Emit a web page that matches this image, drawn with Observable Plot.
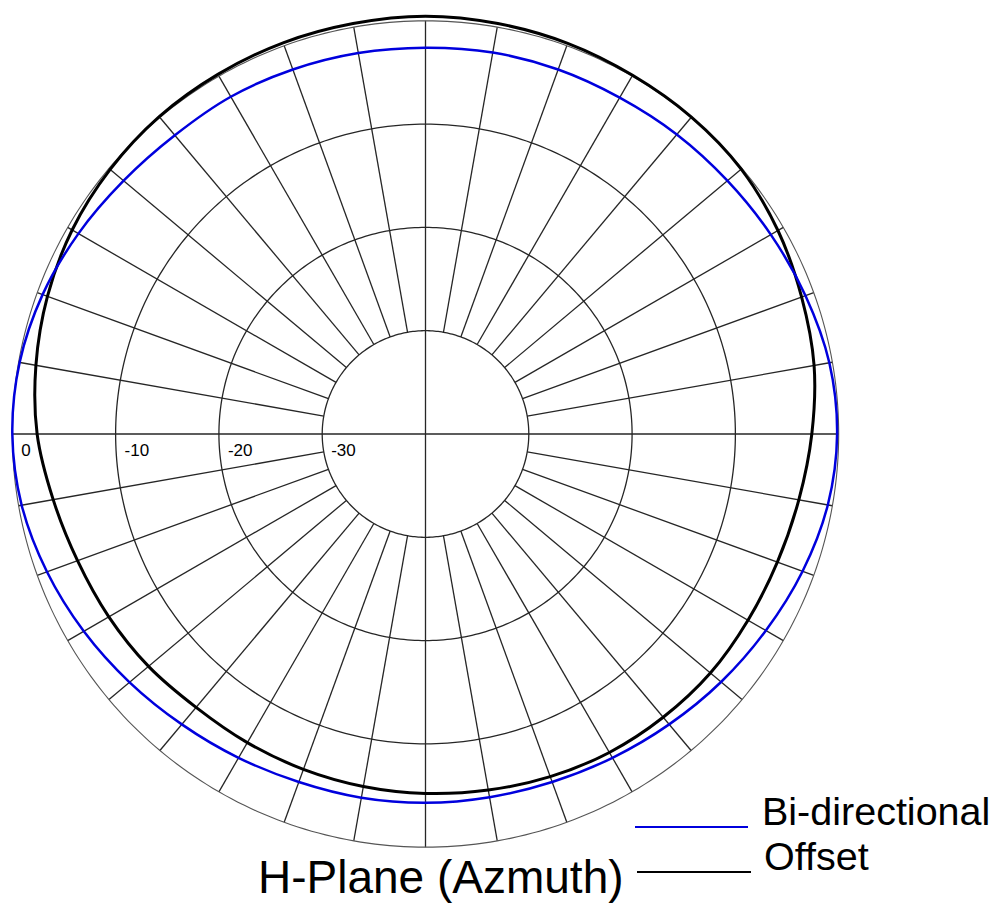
<!DOCTYPE html>
<html>
<head>
<meta charset="utf-8">
<script src="https://cdn.jsdelivr.net/npm/d3@7"></script>
<script src="https://cdn.jsdelivr.net/npm/@observablehq/plot@0.6"></script>
<style>
  body { margin: 0; background: #fff; font-family: "Liberation Sans", Arial, sans-serif; }
  #wrap { position: relative; width: 1003px; height: 913px; overflow: hidden; background: #fff; }
  #chart { position: absolute; left: 0; top: 0; }
  .txt { position: absolute; white-space: nowrap; color: #000; line-height: 1; }
  .swatch { position: absolute; height: 2px; }
</style>
</head>
<body>
<div id="wrap">
  <div id="chart"></div>
  <div class="swatch" style="left:635px; top:826px; width:113px; background:#0000dd;"></div>
  <div class="txt" style="left:762px; top:792px; font-size:39.5px;">Bi-directional</div>
  <div class="swatch" style="left:637px; top:871px; width:114px; background:#000;"></div>
  <div class="txt" style="left:764px; top:837px; font-size:39.5px;">Offset</div>
  <div class="txt" style="left:258px; top:854px; font-size:46px;">H-Plane (Azmuth)</div>
</div>
<script>
// Angles measured clockwise from the top of the chart (degrees)
const angles = [0, 10, 20, 30, 40, 50, 60, 70, 80, 90, 100, 110, 120, 130, 140, 150, 160, 170,
                180, 190, 200, 210, 220, 230, 240, 250, 260, 270, 280, 290, 300, 310, 320, 330, 340, 350];
// Relative level (dB)
const biDirectional = [-2.6, -2.5, -2.45, -2.4, -2.15, -1.85, -1.4, -0.85, -0.3, -0.15, -0.45, -1.15,
                       -1.95, -2.65, -3.3, -3.8, -4.15, -4.3, -4.3, -4.25, -4.15, -3.8, -3.3, -2.6,
                       -1.8, -1.0, -0.3, 0.0, -0.1, -0.55, -1.2, -1.85, -2.25, -2.3, -2.45, -2.55];
const offset = [0.45, 0.35, 0.25, 0.1, 0.05, -0.1, -0.6, -1.25, -1.8, -2.6, -3.3, -3.75,
                -3.95, -4.0, -4.2, -4.4, -4.7, -5.0, -5.2, -5.35, -5.45, -5.5, -5.45, -5.0,
                -4.6, -4.15, -3.4, -2.4, -1.7, -1.05, -0.5, -0.15, 0.1, 0.2, 0.3, 0.35];
const seriesNames = ["Bi-directional", "Offset"];
const seriesColors = ["#0000dd", "#000000"];
const ringLevels = [0, -10, -20, -30];
const ringLabels = ["0", "-10", "-20", "-30"];
const floorLevel = -40;
const spokeStep = 10;

const rad = a => a * Math.PI / 180;
const px = (a, db) => (db - floorLevel) * Math.sin(rad(a));
const py = (a, db) => (db - floorLevel) * Math.cos(rad(a));

const rows = [];
angles.forEach((a, i) => {
  rows.push({series: seriesNames[0], angle: a, db: biDirectional[i]});
  rows.push({series: seriesNames[1], angle: a, db: offset[i]});
});

const ringRows = ringLevels.flatMap(level => d3.range(0, 360, 1).map(a => ({level, angle: a})));
const spokes = d3.range(0, 360, spokeStep);

const chart = Plot.plot({
  width: 1003,
  height: 913,
  marginLeft: 1.5,
  marginRight: 154.5,
  marginTop: 10,
  marginBottom: 56,
  x: {domain: [-41, 41], axis: null},
  y: {domain: [-41, 41], axis: null},
  color: {domain: seriesNames, range: seriesColors},
  style: {fontFamily: "'Liberation Sans', Arial, sans-serif", background: "#fff"},
  marks: [
    Plot.link(spokes, {
      x1: a => px(a, a % 90 === 0 ? floorLevel : -30),
      y1: a => py(a, a % 90 === 0 ? floorLevel : -30),
      x2: a => px(a, 0),
      y2: a => py(a, 0),
      stroke: "#262626",
      strokeWidth: 1.3
    }),
    Plot.line(ringRows.filter(d => d.level !== 0), {
      x: d => px(d.angle, d.level),
      y: d => py(d.angle, d.level),
      z: "level",
      curve: "linear-closed",
      stroke: "#262626",
      strokeWidth: 1.3
    }),
    Plot.line(ringRows.filter(d => d.level === 0), {
      x: d => px(d.angle, d.level),
      y: d => py(d.angle, d.level),
      z: "level",
      curve: "linear-closed",
      stroke: "#555",
      strokeWidth: 1.1
    }),
    Plot.text(ringLevels, {
      x: d => -(d - floorLevel),
      y: 0,
      text: (d, i) => ringLabels[i],
      textAnchor: "start",
      dx: 9,
      dy: 17,
      fontSize: 17,
      fill: "#000"
    }),
    Plot.line(rows.filter(d => d.series === "Offset"), {
      x: d => px(d.angle, d.db),
      y: d => py(d.angle, d.db),
      z: "series",
      stroke: "series",
      curve: "catmull-rom-closed",
      strokeWidth: 3
    }),
    Plot.line(rows.filter(d => d.series === "Bi-directional"), {
      x: d => px(d.angle, d.db),
      y: d => py(d.angle, d.db),
      z: "series",
      stroke: "series",
      curve: "catmull-rom-closed",
      strokeWidth: 2.5
    })
  ]
});
document.getElementById("chart").appendChild(chart);
</script>
</body>
</html>
